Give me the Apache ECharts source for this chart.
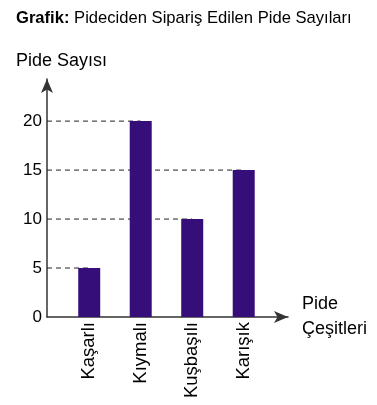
<!DOCTYPE html>
<html>
<head>
<meta charset="utf-8">
<style>
  html, body { margin: 0; padding: 0; background: #fff; }
  #chart { width: 377px; height: 405px; }
</style>
</head>
<body>
<div id="chart"></div>
<script src="https://cdn.jsdelivr.net/npm/echarts@6/dist/echarts.min.js"></script>
<script>
// veriler
var categories = ['Kaşarlı', 'Kıymalı', 'Kuşbaşılı', 'Karışık'];
var pideCounts = [5, 20, 10, 15];
var yTicks = [0, 5, 10, 15, 20];
var catPositions = [0, 1, 2, 3];

var FONT = '"Liberation Sans", Arial, sans-serif';
var xMin = -0.82, xMax = 3.86;

var chart = echarts.init(document.getElementById('chart'));

// kesikli yardımcı çizgiler (eksenden çubuğa)
var guideSeries = pideCounts.map(function (v, i) {
    return {
        type: 'line',
        data: [[xMin, v], [catPositions[i], v]],
        symbol: 'none',
        silent: true,
        z: 1,
        lineStyle: { color: '#222', width: 1, type: [5, 4] }
    };
});

var option = {
    animation: false,
    textStyle: { fontFamily: FONT },
    title: [
        {
            text: '{b|Grafik:} Pideciden Sipariş Edilen Pide Sayıları',
            left: 11, top: 5,
            textStyle: {
                fontFamily: FONT, fontSize: 16.6, fontWeight: 'normal', color: '#000',
                rich: { b: { fontFamily: FONT, fontSize: 16.6, fontWeight: 'bold', color: '#000' } }
            }
        },
        {
            text: 'Pide Sayısı',
            left: 11, top: 47,
            textStyle: { fontFamily: FONT, fontSize: 18, fontWeight: 'normal', color: '#000' }
        }
    ],
    grid: { left: 47, right: 89, top: 79, bottom: 88 },
    xAxis: {
        type: 'value',
        min: xMin,
        max: xMax,
        splitLine: { show: false },
        axisTick: { show: false },
        axisLine: {
            lineStyle: { color: '#333', width: 1.5 },
            symbol: ['none', 'arrow'],
            symbolSize: [9, 14]
        },
        axisLabel: {
            customValues: catPositions,
            formatter: function (v) { return categories[Math.round(v)]; },
            rotate: 90,
            margin: 5,
            fontSize: 18.5,
            color: '#000',
            fontFamily: FONT
        },
        name: 'Pide\nÇeşitleri',
        nameLocation: 'end',
        nameGap: 14,
        nameTextStyle: { fontSize: 18, lineHeight: 25, color: '#000', fontFamily: FONT, align: 'left', verticalAlign: 'middle' }
    },
    yAxis: {
        type: 'value',
        min: 0,
        max: 24.3,
        splitLine: { show: false },
        axisTick: { show: false },
        axisLine: {
            show: true,
            onZero: false,
            lineStyle: { color: '#333', width: 1.5 },
            symbol: ['none', 'arrow'],
            symbolSize: [9, 14]
        },
        axisLabel: {
            customValues: yTicks,
            margin: 5,
            fontSize: 17,
            color: '#000',
            fontFamily: FONT
        }
    },
    series: guideSeries.concat([
        {
            type: 'bar',
            data: pideCounts.map(function (v, i) { return [catPositions[i], v]; }),
            barWidth: 22,
            z: 2,
            itemStyle: { color: '#360e7a' }
        }
    ])
};
chart.setOption(option);
</script>
</body>
</html>
